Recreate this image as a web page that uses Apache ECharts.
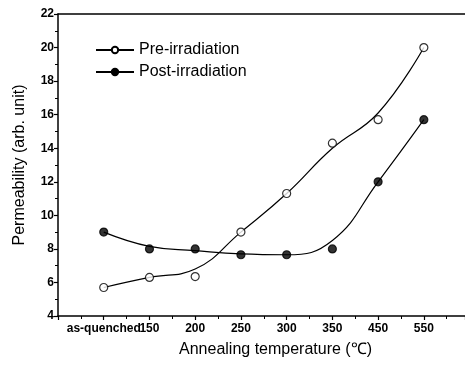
<!DOCTYPE html>
<html><head><meta charset="utf-8">
<script src="https://cdn.jsdelivr.net/npm/echarts@6/dist/echarts.min.js"></script>
<style>html,body{margin:0;padding:0;background:#fff}#c{width:465px;height:372px}</style>
</head><body><div id="c"></div>
<script>
const categories = ['as-quenched', '150', '200', '250', '300', '350', '450', '550'];
const preValues = [5.7, 6.3, 6.35, 9.0, 11.3, 14.3, 15.7, 20.0];
const postValues = [9.0, 8.0, 8.0, 7.65, 7.65, 8.0, 12.0, 15.7];
const preCurve = [5.7, 6.3, 6.8, 9.0, 11.3, 14.0, 16.1, 20.0];
const postCurve = [9.0, 8.15, 7.9, 7.7, 7.65, 8.5, 12.0, 15.7];
const yTicks = [4, 6, 8, 10, 12, 14, 16, 18, 20, 22];

const FONT = '"Liberation Sans", Arial, sans-serif';
const pts = a => a.map((v, i) => [i, v]);
const chart = echarts.init(document.getElementById('c'), null, {renderer: 'canvas'});
chart.setOption({
  animation: false,
  backgroundColor: '#fff',
  grid: {left: 58, right: 0, top: 14, bottom: 56, containLabel: false},
  legend: {
    left: 90, top: 37, orient: 'vertical', itemGap: 6, itemWidth: 38, itemHeight: 8,
    textStyle: {fontFamily: FONT, fontSize: 16, color: '#000'},
    data: ['Pre-irradiation', 'Post-irradiation']
  },
  xAxis: [{
    type: 'value', min: -1, max: 7.9, interval: 1,
    name: 'Annealing temperature (\u2103)', nameLocation: 'middle', nameGap: 26,
    nameTextStyle: {fontFamily: FONT, fontSize: 16, color: '#000', padding: [0, 0, 0, 28]},
    axisLine: {onZero: false, lineStyle: {color: '#000', width: 1.5}},
    axisTick: {inside: false, length: 4, lineStyle: {color: '#000', width: 1.2}},
    minorTick: {show: true, splitNumber: 2, length: 3, lineStyle: {color: '#000'}},
    splitLine: {show: false},
    axisLabel: {
      fontFamily: FONT, fontWeight: 'bold', fontSize: 12, color: '#000', margin: 7,
      showMaxLabel: false,
      formatter: v => (v >= 0 && v < categories.length && Number.isInteger(v)) ? categories[v] : ''
    }
  }, {
    type: 'value', position: 'top', min: -1, max: 7.9,
    axisLine: {show: true, onZero: false, lineStyle: {color: '#000', width: 1.5}},
    axisTick: {show: false}, axisLabel: {show: false}, splitLine: {show: false}
  }],
  yAxis: {
    type: 'value', min: yTicks[0], max: yTicks[yTicks.length - 1], interval: 2,
    name: 'Permeability (arb. unit)', nameLocation: 'middle', nameGap: 30,
    nameTextStyle: {fontFamily: FONT, fontSize: 16, color: '#000'},
    axisLine: {show: true, onZero: false, lineStyle: {color: '#000', width: 1.5}},
    axisTick: {inside: false, length: 4, lineStyle: {color: '#000', width: 1.2}},
    minorTick: {show: true, splitNumber: 2, length: 3, lineStyle: {color: '#000'}},
    splitLine: {show: false},
    axisLabel: {fontFamily: FONT, fontWeight: 'bold', fontSize: 12, color: '#000', margin: 4}
  },
  series: [
    {name: 'Pre-irradiation', type: 'line', data: pts(preCurve), smooth: 0.45,
     showSymbol: false, symbol: 'circle', symbolSize: 8,
     itemStyle: {color: '#fff', borderColor: '#000', borderWidth: 1.2},
     lineStyle: {color: '#000', width: 1.2}, z: 2},
    {name: 'Post-irradiation', type: 'line', data: pts(postCurve), smooth: 0.45,
     showSymbol: false, symbol: 'circle', symbolSize: 8,
     itemStyle: {color: '#000', borderColor: '#000', borderWidth: 1.2},
     lineStyle: {color: '#000', width: 1.2}, z: 2},
    {name: 'Pre-irradiation', type: 'scatter', data: pts(preValues), symbol: 'circle', symbolSize: 8,
     itemStyle: {color: '#fff', borderColor: '#000', borderWidth: 1.2}, z: 3},
    {name: 'Post-irradiation', type: 'scatter', data: pts(postValues), symbol: 'circle', symbolSize: 8,
     itemStyle: {color: '#000', borderColor: '#000', borderWidth: 1.2}, z: 3}
  ]
});
</script></body></html>
